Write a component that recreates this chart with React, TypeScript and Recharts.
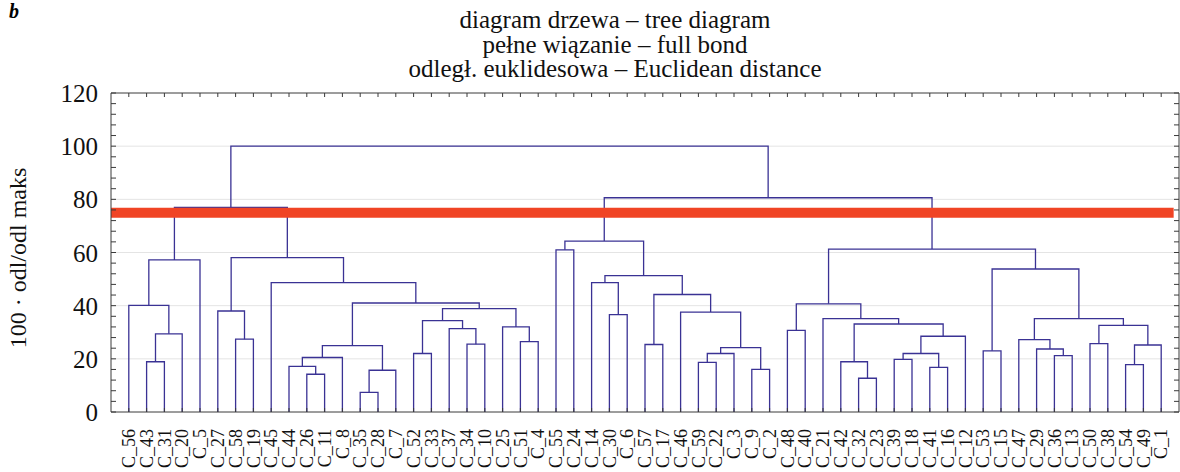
import React from 'react';
import { ComposedChart, Line, XAxis, YAxis, ReferenceLine, CartesianGrid } from 'recharts';

// leaf order along the x axis
const leafLabels = [
  'C_56', 'C_43', 'C_31', 'C_20', 'C_5', 'C_27', 'C_58', 'C_19', 'C_45', 'C_44',
  'C_26', 'C_11', 'C_8', 'C_35', 'C_28', 'C_7', 'C_52', 'C_33', 'C_37', 'C_34',
  'C_10', 'C_25', 'C_51', 'C_4', 'C_55', 'C_24', 'C_14', 'C_30', 'C_6', 'C_57',
  'C_17', 'C_46', 'C_59', 'C_22', 'C_3', 'C_9', 'C_2', 'C_48', 'C_40', 'C_21',
  'C_42', 'C_32', 'C_23', 'C_39', 'C_18', 'C_41', 'C_16', 'C_12', 'C_53', 'C_15',
  'C_47', 'C_29', 'C_36', 'C_13', 'C_50', 'C_38', 'C_54', 'C_49', 'C_1',
];

// merges: [left, right, linkage distance]; "#k" refers to the k-th merge
const linkage: [string, string, number][] = [
  ['C_43', 'C_31', 18.9], // #0
  ['#0', 'C_20', 29.4],
  ['C_56', '#1', 40.1],
  ['#2', 'C_5', 57.2],
  ['C_58', 'C_19', 27.4],
  ['C_27', '#4', 38.0], // #5
  ['C_26', 'C_11', 14.2],
  ['C_44', '#6', 17.2],
  ['#7', 'C_8', 20.5],
  ['C_35', 'C_28', 7.4],
  ['#9', 'C_7', 15.7], // #10
  ['#8', '#10', 25.0],
  ['C_52', 'C_33', 22.0],
  ['C_34', 'C_10', 25.5],
  ['C_37', '#13', 31.4],
  ['#12', '#14', 34.4], // #15
  ['C_51', 'C_4', 26.5],
  ['C_25', '#16', 32.0],
  ['#15', '#17', 38.9],
  ['#11', '#18', 41.0],
  ['C_45', '#19', 48.7], // #20
  ['#5', '#20', 58.1],
  ['#3', '#21', 77.0],
  ['C_55', 'C_24', 61.0],
  ['C_30', 'C_6', 36.6],
  ['C_14', '#24', 48.7], // #25
  ['C_57', 'C_17', 25.4],
  ['C_59', 'C_22', 18.7],
  ['#27', 'C_3', 22.0],
  ['C_9', 'C_2', 16.0],
  ['#28', '#29', 24.2], // #30
  ['C_46', '#30', 37.6],
  ['#26', '#31', 44.2],
  ['#25', '#32', 51.3],
  ['#23', '#33', 64.3],
  ['C_48', 'C_40', 30.7], // #35
  ['C_32', 'C_23', 12.7],
  ['C_42', '#36', 18.9],
  ['C_39', 'C_18', 19.8],
  ['C_41', 'C_16', 16.8],
  ['#38', '#39', 22.0], // #40
  ['#40', 'C_12', 28.5],
  ['#37', '#41', 33.1],
  ['C_21', '#42', 35.1],
  ['#35', '#43', 40.7],
  ['C_53', 'C_15', 23.0], // #45
  ['C_36', 'C_13', 21.2],
  ['C_29', '#46', 23.7],
  ['C_47', '#47', 27.2],
  ['C_50', 'C_38', 25.7],
  ['C_54', 'C_49', 17.8], // #50
  ['#50', 'C_1', 25.2],
  ['#49', '#51', 32.6],
  ['#48', '#52', 35.1],
  ['#45', '#53', 53.8],
  ['#44', '#54', 61.3], // #55
  ['#34', '#55', 80.6],
  ['#22', '#56', 100.0],
];

const cutLevel = 75;
const yTicks = [0, 4, 8, 12, 16, 20, 24, 28, 32, 36, 40, 44, 48, 52, 56, 60, 64, 68, 72, 76, 80, 84, 88, 92, 96, 100, 104, 108, 112, 116, 120];
const yLabelTicks = [0, 20, 40, 60, 80, 100, 120];
const gridLevels = [20, 40, 60, 80, 100];
const xTicks = leafLabels.map((_, i) => i + 1);

const titleLines = [
  'diagram drzewa – tree diagram',
  'pełne wiązanie – full bond',
  'odległ. euklidesowa – Euclidean distance',
];

// build the U-shaped links from the linkage table
const nodeX: Record<string, number> = {};
const nodeH: Record<string, number> = {};
leafLabels.forEach((l, i) => { nodeX[l] = i + 1; nodeH[l] = 0; });
const branches = linkage.map(([a, b, h], k) => {
  const xa = nodeX[a];
  const xb = nodeX[b];
  nodeX['#' + k] = (xa + xb) / 2;
  nodeH['#' + k] = h;
  return [
    { x: xa, y: nodeH[a] },
    { x: xa, y: h },
    { x: xb, y: h },
    { x: xb, y: nodeH[b] },
  ];
});

const FONT = '"Liberation Serif", "Times New Roman", serif';
const AXIS = '#3a3a3a';
const LINK = '#3a3294';

const BottomTick = (props: any) => {
  const { x, y, payload } = props;
  const ty = y + 17;
  return (
    <g>
      <line x1={x} y1={y} x2={x} y2={y - 4} stroke={AXIS} />
      <text x={x} y={ty} dy="0.34em" textAnchor="end" transform={`rotate(-90 ${x} ${ty})`}
        fontSize={18} fontFamily={FONT} fill="#111">{leafLabels[payload.value - 1]}</text>
    </g>
  );
};

const TopTick = (props: any) => {
  const { x, y } = props;
  return <line x1={x} y1={y} x2={x} y2={y + 4} stroke={AXIS} />;
};

const LeftTick = (props: any) => {
  const { x, y, payload } = props;
  const v = payload.value;
  return (
    <g>
      <line x1={x} y1={y} x2={x + 5} y2={y} stroke={AXIS} />
      {yLabelTicks.includes(v) && (
        <text x={x - 13} y={y} dy="0.36em" textAnchor="end" fontSize={25} fontFamily={FONT} fill="#111">{v}</text>
      )}
    </g>
  );
};

const RightTick = (props: any) => {
  const { x, y } = props;
  return <line x1={x} y1={y} x2={x - 5} y2={y} stroke={AXIS} />;
};

export default function App() {
  return (
    <div style={{ position: 'absolute', left: 0, top: 0, width: 1180, height: 472, background: '#fff' }}>
      <div style={{ position: 'absolute', left: 9, top: 1, fontFamily: FONT, fontSize: 20, lineHeight: '20px', fontWeight: 'bold', fontStyle: 'italic' }}>b</div>
      <div style={{ position: 'absolute', left: 0, top: 8, width: 1230, textAlign: 'center', fontFamily: FONT, fontSize: 25, lineHeight: '24.5px', color: '#111' }}>
        {titleLines.map((t) => <div key={t}>{t}</div>)}
      </div>
      <div style={{ position: 'absolute', left: 18, top: 258, width: 0, height: 0 }}>
        <div style={{ position: 'absolute', transform: 'translate(-50%, -50%) rotate(-90deg)', whiteSpace: 'nowrap', fontFamily: FONT, fontSize: 24, color: '#111' }}>
          100 · odl/odl maks
        </div>
      </div>
      <ComposedChart width={1180} height={472} margin={{ top: 92, right: 0, bottom: 10, left: 51 }}>
        <CartesianGrid vertical={false} horizontalValues={gridLevels} stroke="#e4e4e4" />
        <XAxis type="number" dataKey="x" domain={[0, 60]} ticks={xTicks} interval={0}
          height={50} tickLine={false} tickSize={0} tickMargin={0} tick={<BottomTick />}
          axisLine={{ stroke: AXIS }} allowDataOverflow />
        <XAxis xAxisId="top" orientation="top" type="number" dataKey="x" domain={[0, 60]} ticks={xTicks} interval={0}
          height={1} tickLine={false} tickSize={0} tickMargin={0} tick={<TopTick />}
          axisLine={{ stroke: AXIS }} allowDataOverflow />
        <YAxis type="number" domain={[0, 120]} ticks={yTicks} interval={0} width={60}
          tickLine={false} tickSize={0} tickMargin={0} tick={<LeftTick />}
          axisLine={{ stroke: AXIS }} allowDataOverflow />
        <YAxis yAxisId="right" orientation="right" type="number" domain={[0, 120]} ticks={yTicks} interval={0} width={1}
          tickLine={false} tickSize={0} tickMargin={0} tick={<RightTick />}
          axisLine={{ stroke: AXIS }} allowDataOverflow />
        {branches.map((seg, i) => (
          <Line key={i} data={seg} dataKey="y" type="linear" stroke={LINK} strokeWidth={1.3}
            dot={false} activeDot={false} isAnimationActive={false} />
        ))}
        <ReferenceLine segment={[{ x: 0, y: cutLevel }, { x: 59.7, y: cutLevel }]} stroke="#f04425" strokeWidth={10} />
      </ComposedChart>
    </div>
  );
}
